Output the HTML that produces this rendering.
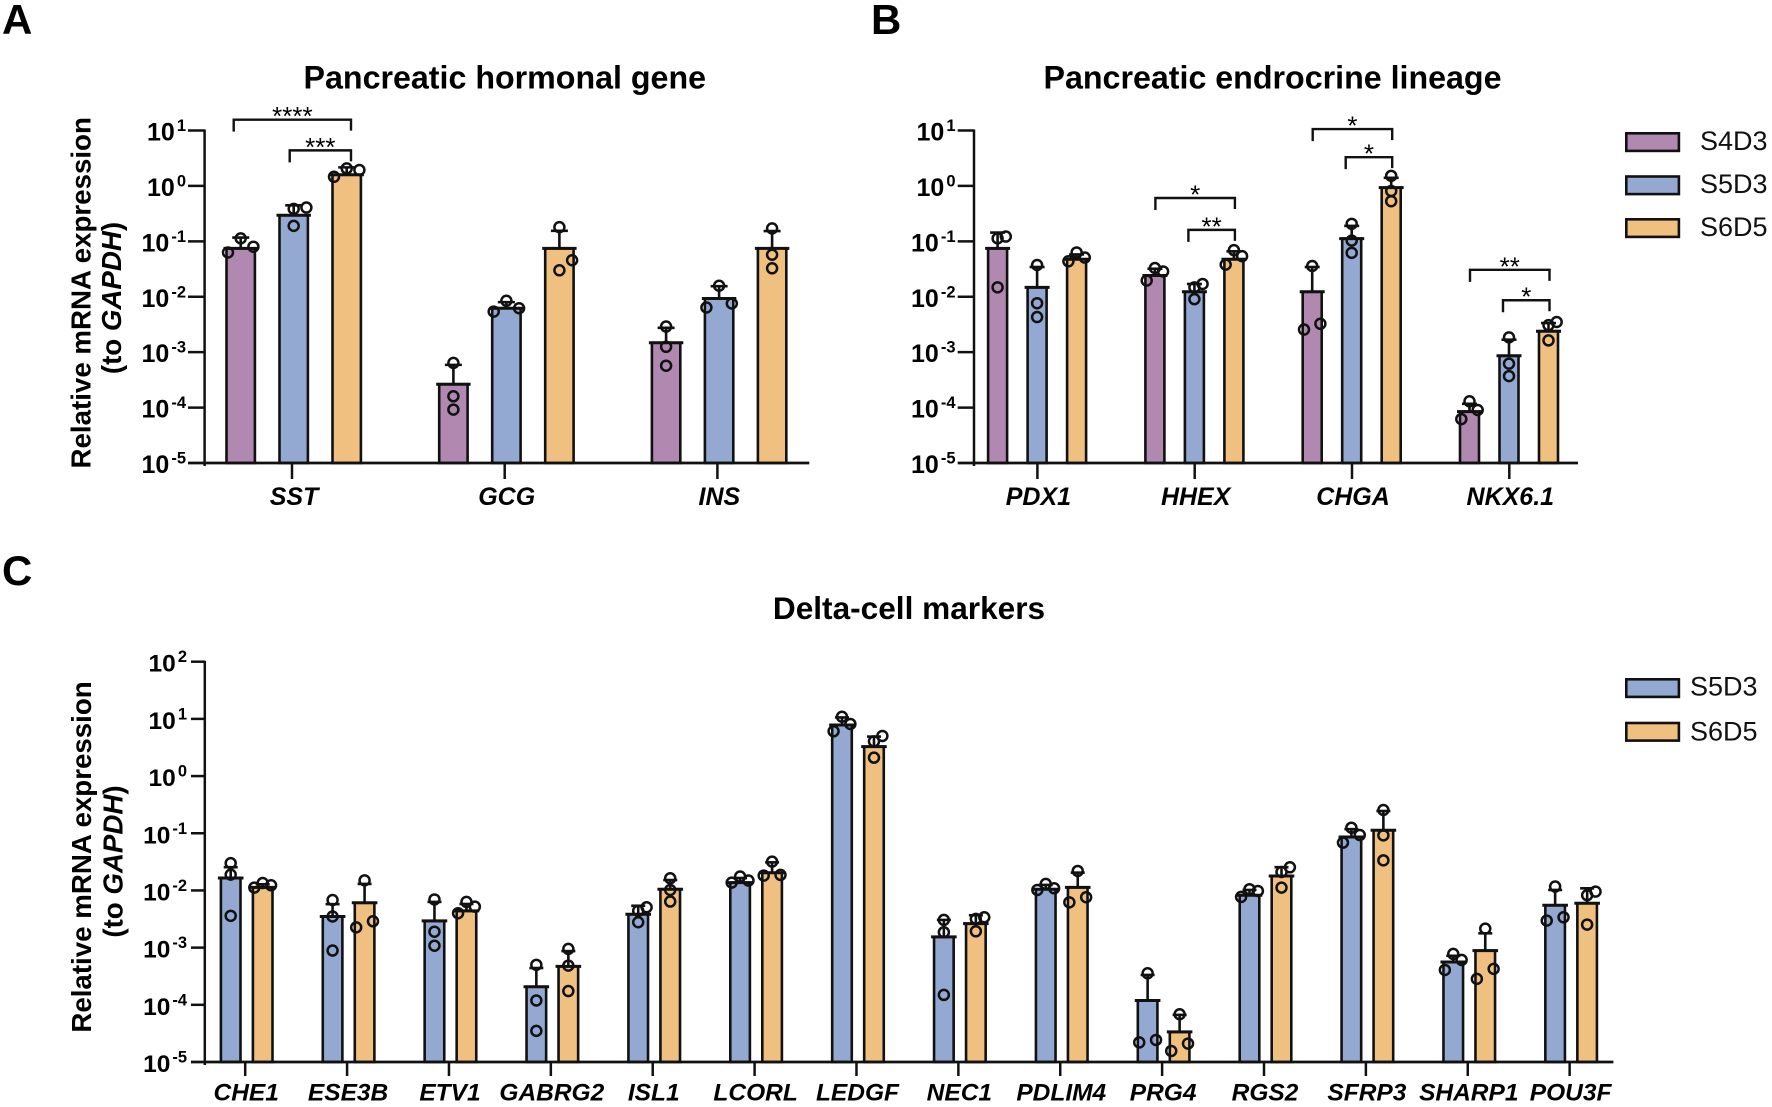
<!DOCTYPE html>
<html lang="en">
<head>
<meta charset="utf-8">
<title>Relative mRNA expression panels</title>
<style>
html,body{margin:0;padding:0;background:#fff;}
svg{display:block;font-family:"Liberation Sans",Arial,sans-serif;filter:blur(0.35px);}
.letter{font-weight:700;font-size:42px;fill:#000;}
.title{font-weight:700;font-size:32.2px;text-anchor:middle;fill:#000;}
.ylab{font-weight:700;font-size:27.7px;text-anchor:middle;fill:#000;}
.leg{font-size:27px;fill:#111;}
</style>
</head>
<body>
<svg id="figure" xmlns="http://www.w3.org/2000/svg" width="1772" height="1107" viewBox="0 0 1772 1107">
  <rect x="0" y="0" width="1772" height="1107" fill="#fff"/>
  <text class="letter" x="2" y="34">A</text>
  <text class="letter" x="871" y="34">B</text>
  <text class="letter" x="2" y="585">C</text>
  <text class="title" x="504.8" y="88.5">Pancreatic hormonal gene</text>
  <text class="title" x="1272.5" y="88.5">Pancreatic endrocrine lineage</text>
  <text class="title" x="909" y="619" style="font-size:31.6px">Delta-cell markers</text>

  <text class="ylab" transform="translate(90.5,292.8) rotate(-90)">Relative mRNA expression</text>
  <text class="ylab" transform="translate(121,298) rotate(-90)">(to <tspan font-style="italic">GAPDH</tspan>)</text>
  <text class="ylab" transform="translate(91,857) rotate(-90)">Relative mRNA expression</text>
  <text class="ylab" transform="translate(122.5,861.5) rotate(-90)">(to <tspan font-style="italic">GAPDH</tspan>)</text>

  <g stroke="#111" stroke-width="2.6">
    <rect x="1626.3" y="133.3" width="52.6" height="17.6" fill="#B088B0"/>
    <rect x="1626.3" y="176.5" width="52.6" height="17.6" fill="#94A9D1"/>
    <rect x="1626.3" y="219.3" width="52.6" height="17.6" fill="#F0C080"/>
  </g>
  <text class="leg" x="1700" y="150">S4D3</text>
  <text class="leg" x="1700" y="193">S5D3</text>
  <text class="leg" x="1700" y="236">S6D5</text>

  <g stroke="#111" stroke-width="2.6">
    <rect x="1626.3" y="679.3" width="52.6" height="17.6" fill="#94A9D1"/>
    <rect x="1626.3" y="723" width="52.6" height="17.6" fill="#F0C080"/>
  </g>
  <text class="leg" x="1690" y="695.7">S5D3</text>
  <text class="leg" x="1690" y="740.7">S6D5</text>

  <g id="chart-a"></g>
  <g id="chart-b"></g>
  <g id="chart-c"></g>
</svg>

<script>
/* ---------- Panel A data ---------- */
const aGenes = ['SST', 'GCG', 'INS'];
const aTickExponents = [1, 0, -1, -2, -3, -4, -5];
const aS4D3Mean = [0.0745, 2.64e-4, 1.48e-3];
const aS4D3Upper = [0.117, 5.9e-4, 2.75e-3];
const aS4D3Reps = [[0.113, 0.080, 0.063], [6.4e-4, 1.6e-4, 9.2e-5], [2.9e-3, 1.25e-3, 5.7e-4]];
const aS4D3Swarm = [[0, 1, -1], [0, 0, 0], [0, 0, 0]];
const aS5D3Mean = [0.295, 6.2e-3, 9.3e-3];
const aS5D3Upper = [0.447, 8.0e-3, 0.0155];
const aS5D3Reps = [[0.407, 0.385, 0.19], [8.45e-3, 6.2e-3, 5.4e-3], [0.0158, 7.55e-3, 6.4e-3]];
const aS5D3Swarm = [[1, 0, 0], [0, 1, -1], [0, 1, -1]];
const aS6D5Mean = [1.59, 0.0745, 0.0748];
const aS6D5Upper = [2.16, 0.155, 0.153];
const aS6D5Reps = [[2.07, 1.94, 1.46], [0.18, 0.0456, 0.03], [0.171, 0.0573, 0.0326]];
const aS6D5Swarm = [[0, 1, -1], [0, 1, 0], [0, 0, 0]];
const aBracketGene = [0, 0];
const aBracketFrom = [0, 1];
const aBracketTo = [2, 2];
const aBracketLevel = [15.7, 4.38];
const aBracketLabel = ['****', '***'];

/* ---------- Panel B data ---------- */
const bGenes = ['PDX1', 'HHEX', 'CHGA', 'NKX6.1'];
const bTickExponents = [1, 0, -1, -2, -3, -4, -5];
const bS4D3Mean = [0.0745, 0.0242, 0.0123, 8.45e-5];
const bS4D3Upper = [0.144, 0.032, 0.0344, 1.17e-4];
const bS4D3Reps = [[0.122, 0.113, 0.0148], [0.033, 0.0286, 0.0196], [0.0359, 3.25e-3, 2.56e-3], [1.3e-4, 9.05e-5, 6.2e-5]];
const bS4D3Swarm = [[1, 0, 0], [0, 1, -1], [0, 1, -1], [0, 1, -1]];
const bS5D3Mean = [0.0148, 0.0123, 0.112, 8.6e-4];
const bS5D3Upper = [0.0344, 0.017, 0.19, 1.68e-3];
const bS5D3Reps = [[0.0374, 7.65e-3, 4.3e-3], [0.017, 0.0148, 9.05e-3], [0.207, 0.103, 0.062], [1.85e-3, 6.2e-4, 3.7e-4]];
const bS5D3Swarm = [[0, 0, 0], [1, 0, 0], [0, 0, 0], [0, 0, 0]];
const bS6D5Mean = [0.0475, 0.0475, 0.933, 2.39e-3];
const bS6D5Upper = [0.058, 0.066, 1.4, 3.35e-3];
const bS6D5Reps = [[0.063, 0.051, 0.0436], [0.0693, 0.054, 0.038], [1.52, 0.81, 0.53], [3.5e-3, 3.07e-3, 1.63e-3]];
const bS6D5Swarm = [[0, 1, -1], [0, 1, -1], [0, 0, 0], [1, 0, 0]];
const bBracketGene = [2, 2, 1, 1, 3, 3];
const bBracketFrom = [0, 1, 0, 1, 0, 1];
const bBracketTo = [2, 2, 2, 2, 2, 2];
const bBracketLevel = [10.6, 3.3, 0.605, 0.161, 0.0306, 8.65e-3];
const bBracketLabel = ['*', '*', '*', '**', '**', '*'];

/* ---------- Panel C data ---------- */
const cGenes = ['CHE1', 'ESE3B', 'ETV1', 'GABRG2', 'ISL1', 'LCORL', 'LEDGF', 'NEC1', 'PDLIM4', 'PRG4', 'RGS2', 'SFRP3', 'SHARP1', 'POU3F'];
const cTickExponents = [2, 1, 0, -1, -2, -3, -4, -5];
const cS5D3Mean = [0.0165, 3.5e-3, 2.93e-3, 2.07e-4, 3.83e-3, 0.0137, 7.8, 1.54e-3, 0.0105, 1.19e-4, 8.24e-3, 0.0861, 5.6e-4, 5.5e-3];
const cS5D3Upper = [0.0255, 5.76e-3, 6.3e-3, 4.4e-4, 5.4e-3, 0.0165, 10.6, 3.05e-3, 0.0125, 3.33e-4, 0.0102, 0.118, 7.2e-4, 0.0102];
const cS5D3Reps = [
  [0.03, 0.0189, 3.6e-3], [6.8e-3, 3.5e-3, 8.9e-4], [6.96e-3, 1.9e-3, 1.08e-3], [5e-4, 1.19e-4, 3.5e-5],
  [5.08e-3, 4.4e-3, 2.78e-3], [0.0175, 0.0149, 0.0137], [10.9, 8.15, 6.07], [3.05e-3, 1.86e-3, 1.49e-4],
  [0.013, 0.0109, 0.0102], [3.56e-4, 2.43e-5, 2.2e-5], [0.0105, 9.8e-3, 7.7e-3], [0.125, 0.093, 0.0685],
  [7.76e-4, 6.1e-4, 4.07e-4], [0.0117, 3.39e-3, 2.97e-3]
];
const cS5D3Swarm = [
  [0, 0, 0], [0, 0, 0], [0, 0, 0], [0, 0, 0], [1, 0, 0], [0, 1, -1], [0, 1, -1],
  [0, 0, 0], [0, 1, -1], [0, 1, -1], [0, 1, -1], [0, 1, -1], [0, 1, -1], [0, 1, -1]
];
const cS6D5Mean = [0.0113, 6.08e-3, 4.4e-3, 4.7e-4, 0.0105, 0.0204, 3.27, 2.63e-3, 0.0113, 3.36e-5, 0.0179, 0.1127, 8.87e-4, 5.97e-3];
const cS6D5Upper = [0.0128, 0.013, 5.8e-3, 8.7e-4, 0.0152, 0.031, 4.9, 3.68e-3, 0.0205, 6.67e-5, 0.0255, 0.245, 1.78e-3, 0.0109];
const cS6D5Reps = [
  [0.0135, 0.0123, 0.0112], [0.015, 2.89e-3, 2.26e-3], [6.3e-3, 5.2e-3, 4e-3], [9.5e-4, 4.85e-4, 1.74e-4],
  [0.0163, 0.0102, 6.4e-3], [0.0319, 0.0187, 0.0182], [5.03, 4.05, 2.1], [3.4e-3, 3.18e-3, 1.93e-3],
  [0.0219, 7.6e-3, 6.2e-3], [6.84e-5, 2.1e-5, 1.56e-5], [0.0254, 0.021, 0.0112], [0.255, 0.092, 0.0336],
  [2.15e-3, 4.25e-4, 2.84e-4], [9.55e-3, 8.24e-3, 2.53e-3]
];
const cS6D5Swarm = [
  [0, 1, -1], [0, 1, -1], [0, 1, -1], [0, 0, 0], [0, 0, 0], [0, 1, -1], [1, 0, 0],
  [1, 0, 0], [0, 1, -1], [0, 1, -1], [1, 0, 0], [0, 0, 0], [0, 1, -1], [1, 0, 0]
];

/* ---------- Drawing ---------- */
const NS = 'http://www.w3.org/2000/svg';
const INK = '#111';
const COLORS = { S4D3: '#B088B0', S5D3: '#94A9D1', S6D5: '#F0C080' };

function node(tag, parent, attrs) {
  const el = document.createElementNS(NS, tag);
  for (const k in attrs) el.setAttribute(k, attrs[k]);
  parent.appendChild(el);
  return el;
}

function drawPanel(host, prefix, g, genes, exps, seriesList, brackets) {
  const span = exps[0] - exps[exps.length - 1];
  const yScale = v => g.top + (exps[0] - Math.log10(v)) / span * (g.bottom - g.top);
  const tickX = i => g.firstTick + i * g.tickStep;
  const n = seriesList.length;
  const barX = (i, s) => tickX(i) + g.shift + (s - (n - 1) / 2) * g.seriesStep;

  seriesList.forEach((ser, s) => {
    genes.forEach((gene, i) => {
      const cx = barX(i, s);
      const yTop = yScale(ser.mean[i]);
      const bar = node('rect', host, { x: cx - g.barW / 2, y: yTop, width: g.barW, height: g.bottom - yTop, fill: COLORS[ser.name], stroke: INK, 'stroke-width': 2.6 });
      
      
      const meanLine = node('line', host, { x1: cx - g.barW / 2 - 3, x2: cx + g.barW / 2 + 3, y1: yTop, y2: yTop, stroke: INK, 'stroke-width': 3 });
      
      
      const yUp = yScale(ser.upper[i]);
      const errStem = node('line', host, { x1: cx, x2: cx, y1: yTop, y2: yUp, stroke: INK, 'stroke-width': 2.6 });
      
      
      const errCap = node('line', host, { x1: cx - g.capW / 2, x2: cx + g.capW / 2, y1: yUp, y2: yUp, stroke: INK, 'stroke-width': 2.6 });
      
      
      ser.reps[i].forEach((v, r) => {
        const pt = node('circle', host, { cx: cx + ser.swarm[i][r] * g.swarmStep, cy: yScale(v), r: 5, fill: 'none', stroke: INK, 'stroke-width': 2.5 });
        
        
      });
    });
  });

  const yAxis = node('line', host, { x1: g.axisX, x2: g.axisX, y1: g.top - 1, y2: g.bottom + 3, stroke: INK, 'stroke-width': 2.5 });
  
  
  const xAxis = node('line', host, { x1: g.tickLeft, x2: g.end, y1: g.bottom, y2: g.bottom, stroke: INK, 'stroke-width': 2.8 });
  
  

  exps.forEach(e => {
    const y = yScale(Math.pow(10, e));
    if (e !== exps[exps.length - 1]) {
      const tick = node('line', host, { x1: g.tickLeft, x2: g.axisX, y1: y, y2: y, stroke: INK, 'stroke-width': 2.5 });
      
      
    }
    const label = node('text', host, { x: g.labelRight, y: y + 10, 'text-anchor': 'end', 'font-weight': 700, 'font-size': g.tickFont, fill: '#000' });
    
    
    label.textContent = '10';
    const sup = node('tspan', label, { dx: 2, dy: -9.5, 'font-size': 16.5 });
    sup.textContent = String(e);
  });

  genes.forEach((gene, i) => {
    const x = tickX(i);
    const tick = node('line', host, { x1: x, x2: x, y1: g.bottom, y2: g.bottom + g.xTickLen, stroke: INK, 'stroke-width': 2.5 });
    
    
    const label = node('text', host, { x: x + g.xLabelShift, y: g.xLabelY, 'text-anchor': 'middle', 'font-weight': 700, 'font-style': 'italic', 'font-size': g.xFont, fill: '#000' });
    
    
    label.textContent = gene;
  });

  if (brackets) {
    brackets.level.forEach((lvl, k) => {
      const x1 = barX(brackets.gene[k], brackets.from[k]) + g.bracketNudge[brackets.from[k]];
      const x2 = barX(brackets.gene[k], brackets.to[k]) + g.bracketNudge[brackets.to[k]];
      const y = yScale(lvl);
      const path = node('path', host, { d: 'M' + x1 + ' ' + (y + 12) + 'V' + y + 'H' + x2 + 'V' + (y + 11), fill: 'none', stroke: INK, 'stroke-width': 2.4 });
      
      
      const star = node('text', host, { x: (x1 + x2) / 2, y: y + 5.5, 'text-anchor': 'middle', 'font-size': 26, fill: '#000' });
      
      
      star.textContent = brackets.label[k];
    });
  }
}

drawPanel(document.getElementById('chart-a'), 'a',
  { axisX: 204.6, tickLeft: 188, top: 130.5, bottom: 463, end: 809.3, firstTick: 292, tickStep: 212.7, seriesStep: 53, shift: 1.7, barW: 28.4, capW: 17, swarmStep: 12.7, labelRight: 186, tickFont: 25, xTickLen: 16, xLabelShift: 2, xLabelY: 505, xFont: 25, bracketNudge: [-7, -4, 4.3] },
  aGenes, aTickExponents,
  [{ name: 'S4D3', mean: aS4D3Mean, upper: aS4D3Upper, reps: aS4D3Reps, swarm: aS4D3Swarm },
   { name: 'S5D3', mean: aS5D3Mean, upper: aS5D3Upper, reps: aS5D3Reps, swarm: aS5D3Swarm },
   { name: 'S6D5', mean: aS6D5Mean, upper: aS6D5Upper, reps: aS6D5Reps, swarm: aS6D5Swarm }],
  { gene: aBracketGene, from: aBracketFrom, to: aBracketTo, level: aBracketLevel, label: aBracketLabel });

drawPanel(document.getElementById('chart-b'), 'b',
  { axisX: 974, tickLeft: 957.7, top: 130.5, bottom: 463, end: 1578, firstTick: 1037.4, tickStep: 157.3, seriesStep: 39.5, shift: -0.3, barW: 19, capW: 15, swarmStep: 8.2, labelRight: 955.5, tickFont: 25, xTickLen: 16, xLabelShift: 1, xLabelY: 505, xFont: 25, bracketNudge: [0.5, -6, 1] },
  bGenes, bTickExponents,
  [{ name: 'S4D3', mean: bS4D3Mean, upper: bS4D3Upper, reps: bS4D3Reps, swarm: bS4D3Swarm },
   { name: 'S5D3', mean: bS5D3Mean, upper: bS5D3Upper, reps: bS5D3Reps, swarm: bS5D3Swarm },
   { name: 'S6D5', mean: bS6D5Mean, upper: bS6D5Upper, reps: bS6D5Reps, swarm: bS6D5Swarm }],
  { gene: bBracketGene, from: bBracketFrom, to: bBracketTo, level: bBracketLevel, label: bBracketLabel });

drawPanel(document.getElementById('chart-c'), 'c',
  { axisX: 204.8, tickLeft: 191, top: 661.7, bottom: 1062, end: 1613.4, firstTick: 245.2, tickStep: 101.88, seriesStep: 32, shift: 1.5, barW: 19.6, capW: 14, swarmStep: 8.4, labelRight: 187, tickFont: 24.5, xTickLen: 14, xLabelShift: 1, xLabelY: 1100.3, xFont: 24.5, bracketNudge: [0, 0] },
  cGenes, cTickExponents,
  [{ name: 'S5D3', mean: cS5D3Mean, upper: cS5D3Upper, reps: cS5D3Reps, swarm: cS5D3Swarm },
   { name: 'S6D5', mean: cS6D5Mean, upper: cS6D5Upper, reps: cS6D5Reps, swarm: cS6D5Swarm }],
  null);
</script>
</body>
</html>
